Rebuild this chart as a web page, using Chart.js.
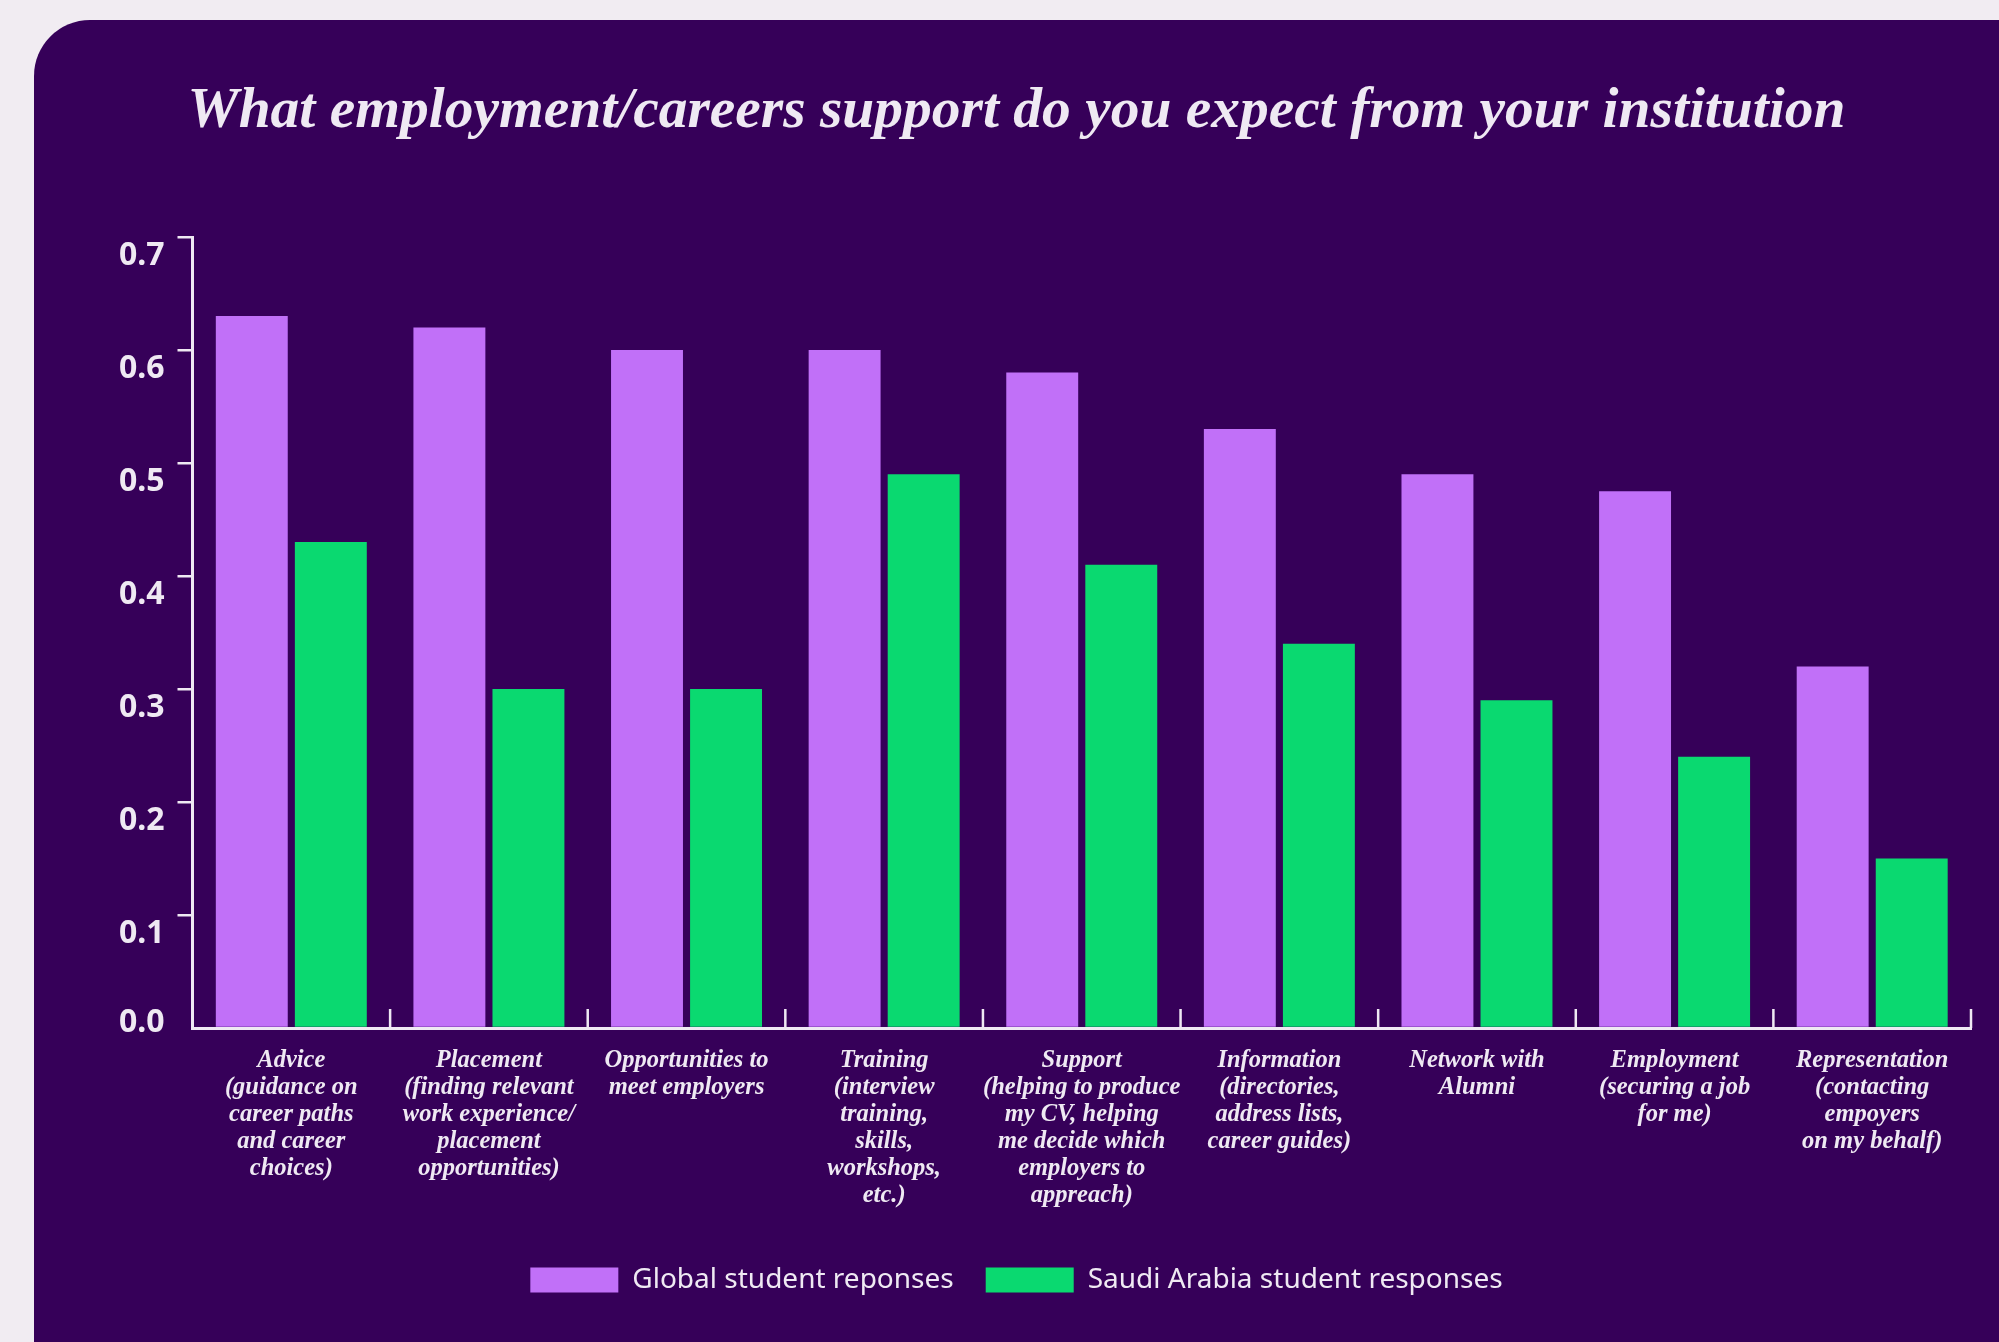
<!DOCTYPE html>
<html>
<head>
<meta charset="utf-8">
<title>Employment and careers support</title>
<script src="https://cdn.jsdelivr.net/npm/chart.js@4.4.0/dist/chart.umd.min.js"></script>
<style>
  html, body { margin: 0; padding: 0; width: 1999px; height: 1342px; overflow: hidden; background: #f1ecf2; }
  .panel { position: absolute; left: 34px; top: 20px; width: 2040px; height: 1380px; background: #360059; border-radius: 56px; }
  #chart { position: absolute; left: 34px; top: 20px; }
</style>
</head>
<body>
<div class="panel"></div>
<canvas id="chart" width="1965" height="1322"></canvas>
<script>
const categories = [
    ['Advice', '(guidance on', 'career paths', 'and career', 'choices)'],
    ['Placement', '(finding relevant', 'work experience/', 'placement', 'opportunities)'],
    ['Opportunities to', 'meet employers'],
    ['Training', '(interview', 'training,', 'skills,', 'workshops,', 'etc.)'],
    ['Support', '(helping to produce', 'my CV, helping', 'me decide which', 'employers to', 'appreach)'],
    ['Information', '(directories,', 'address lists,', 'career guides)'],
    ['Network with', 'Alumni'],
    ['Employment', '(securing a job', 'for me)'],
    ['Representation', '(contacting', 'empoyers', 'on my behalf)']
];
const globalResponses = [0.63, 0.62, 0.60, 0.60, 0.58, 0.53, 0.49, 0.475, 0.32];
const saudiResponses = [0.43, 0.30, 0.30, 0.49, 0.41, 0.34, 0.29, 0.24, 0.15];
const seriesNames = ['Global student reponses', 'Saudi Arabia student responses'];
const chartTitle = 'What employment/careers support do you expect from your institution';

const ink = '#efe9f3';
const serif = 'Liberation Serif';
const sans = 'Noto Sans';

// small upward ticks on the x axis, one per category boundary
const innerTicks = {
    id: 'innerTicks',
    afterDatasetsDraw(chart) {
        const x = chart.scales.x;
        const ctx = chart.ctx;
        const base = chart.chartArea.bottom;
        ctx.save();
        ctx.strokeStyle = ink;
        ctx.lineWidth = 2.5;
        ctx.beginPath();
        for (let i = 1; i <= categories.length; i++) {
            const px = x.getPixelForValue(i - 0.5);
            ctx.moveTo(px, base);
            ctx.lineTo(px, base - 19);
        }
        ctx.stroke();
        ctx.restore();
    }
};

new Chart(document.getElementById('chart').getContext('2d'), {
    type: 'bar',
    data: {
        labels: categories,
        datasets: [{
            label: seriesNames[0],
            data: globalResponses,
            backgroundColor: '#c170f8',
            borderWidth: 0,
            barPercentage: 0.91,
            categoryPercentage: 0.8
        }, {
            label: seriesNames[1],
            data: saudiResponses,
            backgroundColor: '#0ad970',
            borderWidth: 0,
            barPercentage: 0.91,
            categoryPercentage: 0.8
        }]
    },
    options: {
        responsive: false,
        devicePixelRatio: 1,
        animation: false,
        layout: { padding: { left: 0, right: 0, top: 0, bottom: 38 } },
        plugins: {
            tooltip: { enabled: false },
            title: {
                display: true,
                text: chartTitle,
                color: ink,
                font: { family: serif, size: 57.5, style: 'italic', weight: 'bold' },
                padding: { top: 57.5, bottom: 90.5 }
            },
            legend: {
                position: 'bottom',
                labels: {
                    color: ink,
                    font: { family: sans, size: 28 },
                    boxWidth: 88,
                    boxHeight: 25,
                    padding: 32
                }
            }
        },
        scales: {
            x: {
                offset: true,
                grid: { display: true, drawOnChartArea: false, drawTicks: false },
                border: { display: true, color: ink, width: 3 },
                ticks: {
                    color: ink,
                    font: { family: serif, size: 24.5, style: 'italic', weight: 'bold', lineHeight: '27px' },
                    padding: 19,
                    autoSkip: false,
                    maxRotation: 0,
                    minRotation: 0
                },
                afterFit: (scale) => { scale.height = 206; }
            },
            y: {
                min: 0,
                max: 0.7,
                ticks: {
                    stepSize: 0.1,
                    color: ink,
                    font: { family: sans, size: 32, weight: 'bold', lineHeight: '49px' },
                    padding: 13,
                    labelOffset: 19,
                    // the 0.0 label sits just above the baseline
                    callback: (value) => value === 0 ? ['0.0', ''] : value.toFixed(1)
                },
                grid: {
                    drawOnChartArea: false,
                    color: (ctx) => ctx.tick && ctx.tick.value === 0 ? 'rgba(0,0,0,0)' : ink,
                    lineWidth: 2.5,
                    tickLength: 15
                },
                border: { display: true, color: ink, width: 3 },
                afterFit: (scale) => { scale.width = 158.5; }
            },
            // empty right-hand gutter so title and legend stay centred on the panel
            gutter: {
                position: 'right',
                display: true,
                grid: { display: false },
                border: { display: false },
                ticks: { display: false },
                afterFit: (scale) => { scale.width = 28; }
            }
        }
    },
    plugins: [innerTicks]
});
</script>
</body>
</html>
